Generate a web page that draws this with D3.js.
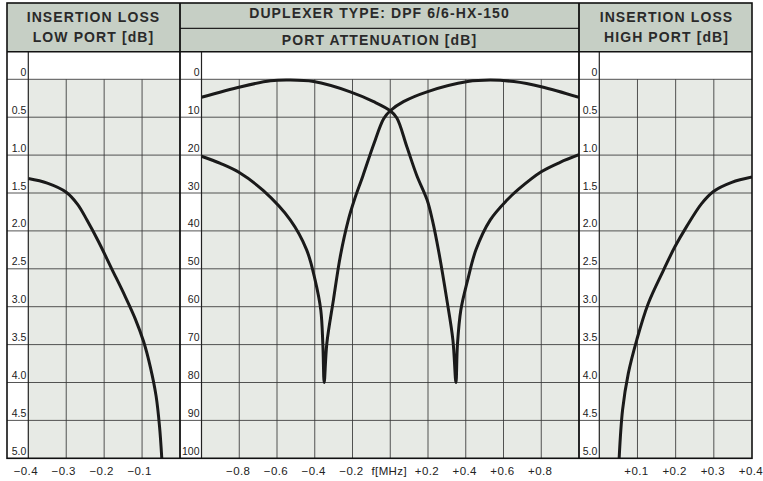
<!DOCTYPE html>
<html><head><meta charset="utf-8">
<script src="https://cdn.jsdelivr.net/npm/d3@7/dist/d3.min.js"></script>
<style>
body{margin:0;background:#fff}
svg{display:block}
.hdr{font-family:"Liberation Sans",Arial,sans-serif;font-weight:bold;font-size:14px;letter-spacing:1.1px;fill:#2a2a2a}
.ylab{font-family:"Liberation Sans",Arial,sans-serif;font-size:10.5px;fill:#222}
.xax text{font-family:"Liberation Sans",Arial,sans-serif;font-size:11.5px;fill:#222;letter-spacing:0.4px}
</style>
</head><body><svg id="c" width="763" height="481"></svg>
<script>
// ---------------- DATA ----------------
const lowPortFreq = [-0.4, -0.35, -0.3, -0.27, -0.245, -0.215, -0.18, -0.145, -0.118, -0.096, -0.078, -0.063, -0.054, -0.048];
const lowPortLoss = [1.31, 1.37, 1.49, 1.65, 1.86, 2.14, 2.50, 2.86, 3.16, 3.46, 3.80, 4.18, 4.58, 5.0];

const highPortFreq = [0.052, 0.061, 0.076, 0.098, 0.128, 0.168, 0.198, 0.229, 0.268, 0.299, 0.347, 0.4];
const highPortLoss = [5.0, 4.36, 3.88, 3.44, 2.96, 2.52, 2.21, 1.94, 1.64, 1.48, 1.36, 1.29];

// port attenuation, curve passing low side (notch at +0.35 MHz)
const attenAFreq = [-1.0, -0.79, -0.634, -0.54, -0.406, -0.212, -0.088, 0.0, 0.035, 0.088, 0.14, 0.195, 0.223, 0.257, 0.30, 0.332, 0.348, 0.356, 0.374, 0.41, 0.454, 0.53, 0.62, 0.68, 0.8, 0.9, 1.0];
const attenALoss = [4.75, 1.95, 0.4, 0.2, 0.6, 3.3, 5.9, 8.3, 10.2, 17.8, 25.3, 31.8, 37.1, 45.5, 58.2, 68.8, 80, 70, 60.9, 53, 45, 37.1, 31.8, 29.0, 24.4, 21.9, 19.9];

// port attenuation, curve passing high side (notch at -0.35 MHz)
const attenBFreq = [-1.0, -0.9, -0.8, -0.672, -0.53, -0.443, -0.398, -0.368, -0.357, -0.35, -0.336, -0.301, -0.265, -0.222, -0.19, -0.145, -0.088, -0.035, 0.0, 0.07, 0.195, 0.41, 0.53, 0.655, 0.8, 1.0];
const attenBLoss = [20.3, 22.2, 24.6, 29.4, 37.1, 45, 53, 60.9, 70, 80, 69.7, 58.2, 46.8, 37.1, 31.8, 25.5, 17.2, 10.4, 8.3, 5.9, 3.3, 0.6, 0.2, 0.6, 1.95, 4.75];

const lossTicks = [0, 0.5, 1.0, 1.5, 2.0, 2.5, 3.0, 3.5, 4.0, 4.5, 5.0];
const lossTickLabels = ["0", "0.5", "1.0", "1.5", "2.0", "2.5", "3.0", "3.5", "4.0", "4.5", "5.0"];
const attenTicks = [0, 10, 20, 30, 40, 50, 60, 70, 80, 90, 100];
const attenTickLabels = ["0", "10", "20", "30", "40", "50", "60", "70", "80", "90", "100"];

const lowFreqGrid = [-0.3, -0.2, -0.1];
const lowFreqTicks = [-0.4, -0.3, -0.2, -0.1];
const lowFreqLabels = ["\u22120.4", "\u22120.3", "\u22120.2", "\u22120.1"];
const midFreqGrid = [-0.8, -0.6, -0.4, -0.2, 0, 0.2, 0.4, 0.6, 0.8];
const midFreqTicks = [-0.8, -0.6, -0.4, -0.2, 0, 0.2, 0.4, 0.6, 0.8];
const midFreqLabels = ["\u22120.8", "\u22120.6", "\u22120.4", "\u22120.2", "f[MHz]", "+0.2", "+0.4", "+0.6", "+0.8"];
const highFreqGrid = [0.1, 0.2, 0.3];
const highFreqTicks = [0.1, 0.2, 0.3, 0.4];
const highFreqLabels = ["+0.1", "+0.2", "+0.3", "+0.4"];

const headerLeft = ["INSERTION LOSS", "LOW PORT [dB]"];
const headerMidTop = "DUPLEXER TYPE: DPF 6/6-HX-150";
const headerMidBottom = "PORT ATTENUATION [dB]";
const headerRight = ["INSERTION LOSS", "HIGH PORT [dB]"];

// ---------------- LAYOUT ----------------
const svg = d3.select("#c");
const L = 7, R = 752, T = 3, B = 458.3, HB = 51.7, Y0 = 79.3;
const sep1 = 180, sep2 = 579;
const headerFill = "#c6cfc5", gridFill = "#e7eae5", gridStroke = "#383838";

const panels = [
  {x0: L, lab: 28.3, x1: sep1, domain: [-0.4, 0], yMax: 5, ticks: lossTicks, tickLabels: lossTickLabels,
   grid: lowFreqGrid, xt: lowFreqTicks, xl: lowFreqLabels, dx: -3,
   series: [[lowPortFreq, lowPortLoss]]},
  {x0: sep1, lab: 201.5, x1: sep2, domain: [-1, 1], yMax: 100, ticks: attenTicks, tickLabels: attenTickLabels,
   grid: midFreqGrid, xt: midFreqTicks, xl: midFreqLabels, dx: -1.5,
   series: [[attenAFreq, attenALoss], [attenBFreq, attenBLoss]]},
  {x0: sep2, lab: 599.3, x1: R, domain: [0, 0.4], yMax: 5, ticks: lossTicks, tickLabels: lossTickLabels,
   grid: highFreqGrid, xt: highFreqTicks, xl: highFreqLabels, dx: -1.5,
   series: [[highPortFreq, highPortLoss]]}
];

svg.append("rect").attr("x", L).attr("y", T).attr("width", R - L).attr("height", HB - T).attr("fill", headerFill);

panels.forEach((p, pi) => {
  const x = d3.scaleLinear().domain(p.domain).range([p.lab, p.x1]);
  const y = d3.scaleLinear().domain([0, p.yMax]).range([Y0, B]);
  const g = svg.append("g");
  g.append("rect").attr("x", p.x0).attr("y", HB).attr("width", p.lab - p.x0).attr("height", B - HB).attr("fill", "#fff");
  g.append("rect").attr("x", p.lab).attr("y", HB).attr("width", p.x1 - p.lab).attr("height", y(0) - HB).attr("fill", "#fff");
  g.append("rect").attr("x", p.lab).attr("y", y(0)).attr("width", p.x1 - p.lab).attr("height", B - y(0)).attr("fill", gridFill);
  g.selectAll(".vg").data(p.grid).join("line")
    .attr("x1", d => x(d)).attr("x2", d => x(d)).attr("y1", y(0)).attr("y2", B)
    .attr("stroke", gridStroke).attr("stroke-width", 1).attr("opacity", 0.85);
  g.selectAll(".hg").data(p.ticks.slice(0, -1)).join("line")
    .attr("x1", p.x0).attr("x2", p.x1).attr("y1", d => y(d)).attr("y2", d => y(d))
    .attr("stroke", gridStroke).attr("stroke-width", 1).attr("opacity", 0.85);
  g.append("line").attr("x1", p.lab).attr("x2", p.lab).attr("y1", HB).attr("y2", B)
    .attr("stroke", "#222").attr("stroke-width", 1.2);
  g.selectAll(".yl").data(p.ticks).join("text").attr("class", "ylab")
    .attr("x", p.lab - 2).attr("y", d => y(d) - 3.5).attr("text-anchor", "end")
    .text((d, i) => p.tickLabels[i]);
  const clipId = "clip" + pi;
  svg.append("clipPath").attr("id", clipId).append("rect")
    .attr("x", p.lab).attr("y", HB).attr("width", p.x1 - p.lab).attr("height", B - HB);
  const line = d3.line().x(d => x(d[0])).y(d => y(d[1])).curve(d3.curveCatmullRom.alpha(0.5));
  p.series.forEach(([fx, fy]) => {
    const pts = fx.map((v, i) => [v, fy[i]]);
    g.append("path").attr("d", line(pts)).attr("fill", "none")
      .attr("stroke", "#1a1a1a").attr("stroke-width", 3).attr("stroke-linejoin", "round")
      .attr("clip-path", `url(#${clipId})`);
  });
  const ax = d3.axisBottom(x).tickValues(p.xt).tickFormat((d, i) => p.xl[i]).tickSize(0).tickPadding(9);
  const ag = svg.append("g").attr("class", "xax").attr("transform", `translate(0,${B})`).call(ax);
  ag.select(".domain").remove();
  ag.selectAll("text").attr("dx", p.dx).attr("font-family", null).attr("font-size", null);
});

svg.append("text").attr("class", "hdr").attr("x", (L + sep1) / 2).attr("y", 22).attr("text-anchor", "middle").text(headerLeft[0]);
svg.append("text").attr("class", "hdr").attr("x", (L + sep1) / 2).attr("y", 41.5).attr("text-anchor", "middle").text(headerLeft[1]);
svg.append("text").attr("class", "hdr").attr("x", (sep1 + sep2) / 2).attr("y", 17.5).attr("text-anchor", "middle").text(headerMidTop);
svg.append("text").attr("class", "hdr").attr("x", (sep1 + sep2) / 2).attr("y", 45.3).attr("text-anchor", "middle").text(headerMidBottom);
svg.append("text").attr("class", "hdr").attr("x", (sep2 + R) / 2 + 1).attr("y", 22).attr("text-anchor", "middle").text(headerRight[0]);
svg.append("text").attr("class", "hdr").attr("x", (sep2 + R) / 2 + 1).attr("y", 41.5).attr("text-anchor", "middle").text(headerRight[1]);

svg.append("line").attr("x1", sep1).attr("x2", sep2).attr("y1", 28.3).attr("y2", 28.3).attr("stroke", "#222").attr("stroke-width", 1.2);
svg.append("line").attr("x1", L).attr("x2", R).attr("y1", HB).attr("y2", HB).attr("stroke", "#111").attr("stroke-width", 1.5);
[sep1, sep2].forEach(sx => svg.append("line").attr("x1", sx).attr("x2", sx).attr("y1", T).attr("y2", B).attr("stroke", "#111").attr("stroke-width", 1.8));
svg.append("rect").attr("x", L).attr("y", T).attr("width", R - L).attr("height", B - T)
  .attr("fill", "none").attr("stroke", "#111").attr("stroke-width", 1.6);
</script>
</body></html>
